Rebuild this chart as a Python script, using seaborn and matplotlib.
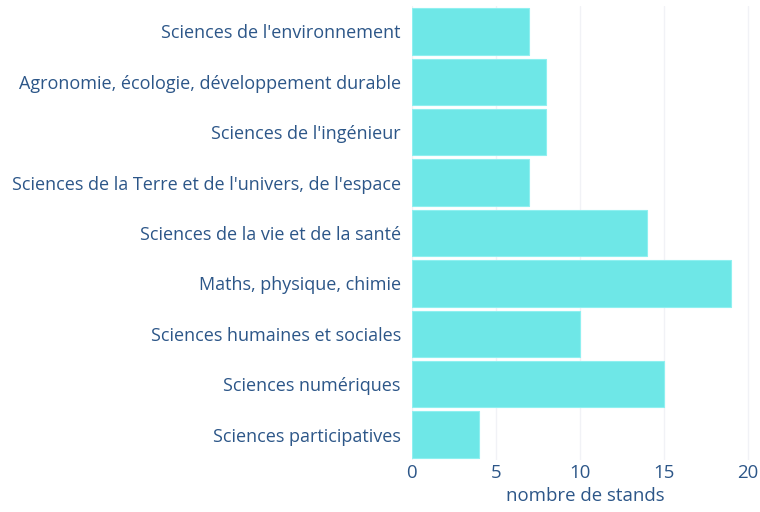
import matplotlib
matplotlib.use("Agg")
import matplotlib.pyplot as plt
import seaborn as sns
import pandas as pd

categories = [
    "Sciences de l'environnement",
    "Agronomie, écologie, développement durable",
    "Sciences de l'ingénieur",
    "Sciences de la Terre et de l'univers, de l'espace",
    "Sciences de la vie et de la santé",
    "Maths, physique, chimie",
    "Sciences humaines et sociales",
    "Sciences numériques",
    "Sciences participatives",
]
values = [7, 8, 8, 7, 14, 19, 10, 15, 4]
xticks = [0, 5, 10, 15, 20]

sns.set_theme(style="white")
plt.rcParams['font.family'] = ['Open Sans', 'DejaVu Sans']
text_color = "#2c5688"
bar_color = "#6ee7e7"

df = pd.DataFrame({"cat": categories, "val": values})
fig = plt.figure(figsize=(7.6, 5.12), dpi=100)
ax = fig.add_axes([0.542, 0.102, 0.455, 0.886])
sns.barplot(data=df, y="cat", x="val", orient="h", color=bar_color,
            saturation=1, width=0.92, edgecolor="#8ff0f0", linewidth=0.8, ax=ax)
ax.set_xlim(0, 20.6)
ax.set_xticks(xticks)
ax.set_xticklabels([str(t) for t in xticks])
ax.xaxis.grid(True, color="#f1f2f6", linewidth=1)
ax.set_axisbelow(True)
for s in ax.spines.values():
    s.set_visible(False)
ax.set_ylabel("")
ax.set_xlabel("nombre de stands", fontsize=13.4, color=text_color, labelpad=4)
ax.tick_params(axis="y", labelsize=13, colors=text_color, length=0, pad=8)
ax.tick_params(axis="x", labelsize=13.4, colors=text_color, length=0, pad=3)
fig.savefig("out.png", dpi=100, facecolor="white")
